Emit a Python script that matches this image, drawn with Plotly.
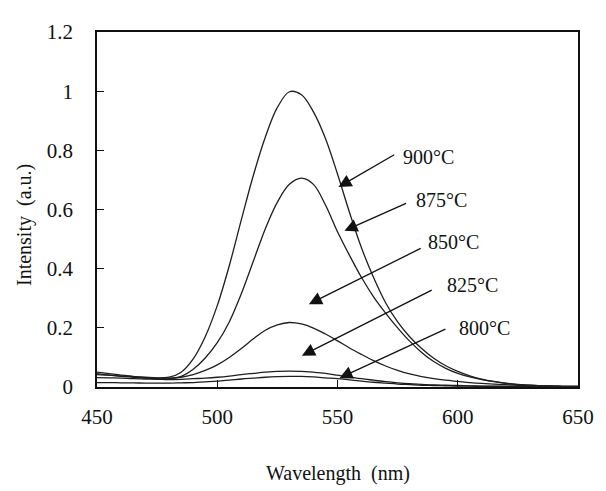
import plotly.graph_objects as go

wavelength = [450, 455, 460, 465, 470, 475, 480, 485, 490, 495,
              500, 505, 510, 515, 520, 525, 530, 535, 540, 545,
              550, 555, 560, 565, 570, 575, 580, 585, 590, 595,
              600, 605, 610, 615, 620, 625, 630, 635, 640, 645, 650]

i_900 = [0.050, 0.045, 0.040, 0.036, 0.032, 0.030, 0.033, 0.050, 0.095, 0.170,
         0.275, 0.410, 0.565, 0.715, 0.845, 0.945, 0.998, 0.988, 0.930, 0.840,
         0.720, 0.590, 0.470, 0.370, 0.285, 0.220, 0.170, 0.130, 0.097, 0.072,
         0.053, 0.038, 0.027, 0.019, 0.013, 0.009, 0.006, 0.004, 0.003, 0.002, 0.002]

i_875 = [0.045, 0.040, 0.036, 0.033, 0.030, 0.028, 0.028, 0.036, 0.060, 0.098,
         0.150, 0.220, 0.315, 0.425, 0.535, 0.625, 0.685, 0.706, 0.685, 0.615,
         0.525, 0.445, 0.370, 0.305, 0.250, 0.200, 0.155, 0.117, 0.086, 0.063,
         0.046, 0.034, 0.025, 0.018, 0.012, 0.008, 0.005, 0.004, 0.003, 0.002, 0.002]

i_850 = [0.042, 0.040, 0.037, 0.035, 0.033, 0.031, 0.030, 0.033, 0.042, 0.056,
         0.075, 0.100, 0.130, 0.163, 0.192, 0.210, 0.218, 0.213, 0.199, 0.179,
         0.156, 0.132, 0.110, 0.089, 0.071, 0.056, 0.044, 0.035, 0.028, 0.023,
         0.019, 0.015, 0.012, 0.010, 0.008, 0.006, 0.005, 0.004, 0.003, 0.002, 0.002]

i_825 = [0.032, 0.031, 0.030, 0.028, 0.027, 0.026, 0.025, 0.026, 0.028, 0.030,
         0.033, 0.037, 0.042, 0.046, 0.050, 0.053, 0.054, 0.053, 0.050, 0.046,
         0.040, 0.034, 0.028, 0.023, 0.018, 0.014, 0.011, 0.009, 0.007, 0.006,
         0.005, 0.004, 0.003, 0.003, 0.002, 0.002, 0.002, 0.001, 0.001, 0.001, 0.001]

i_800 = [0.015, 0.015, 0.014, 0.014, 0.013, 0.013, 0.013, 0.014, 0.015, 0.017,
         0.020, 0.023, 0.027, 0.030, 0.033, 0.035, 0.036, 0.036, 0.034, 0.031,
         0.028, 0.024, 0.020, 0.016, 0.013, 0.010, 0.008, 0.006, 0.005, 0.004,
         0.003, 0.003, 0.002, 0.002, 0.002, 0.002, 0.001, 0.001, 0.001, 0.001, 0.001]

series = [("900°C", i_900), ("875°C", i_875), ("850°C", i_850),
          ("825°C", i_825), ("800°C", i_800)]

x_ticks = [450, 500, 550, 600, 650]
y_ticks = [0, 0.2, 0.4, 0.6, 0.8, 1, 1.2]
y_ticktext = ["0", "0.2", "0.4", "0.6", "0.8", "1", "1.2"]

# label/arrow placement: (label x, label y, arrow tail x, tail y, head x, head y)
label_pos = {
    "900°C": (576.6, 0.778, 574.2, 0.788, 550.4, 0.676),
    "875°C": (582.0, 0.633, 579.1, 0.623, 552.9, 0.528),
    "850°C": (586.9, 0.491, 585.2, 0.471, 538.1, 0.280),
    "825°C": (594.7, 0.346, 589.8, 0.330, 535.2, 0.106),
    "800°C": (599.6, 0.198, 595.5, 0.198, 550.8, 0.030),
}

SERIF = "Liberation Serif, Times New Roman, serif"
LINE = "#1e1e1e"

fig = go.Figure()
for name, vals in series:
    fig.add_trace(go.Scatter(x=wavelength, y=vals, mode="lines", name=name,
                             line=dict(color=LINE, width=1.3, shape="spline",
                                       smoothing=1.0),
                             showlegend=False, hoverinfo="skip"))

annotations = []
for name, _ in series:
    lx, ly, tx, ty, hx, hy = label_pos[name]
    annotations.append(dict(x=lx, y=ly, xref="x", yref="y", text=name,
                            showarrow=False, xanchor="left", yanchor="middle",
                            font=dict(family=SERIF, size=20, color="#111")))
    annotations.append(dict(x=hx, y=hy, ax=tx, ay=ty, xref="x", yref="y",
                            axref="x", ayref="y", text="", showarrow=True,
                            arrowhead=2, arrowsize=2.0, arrowwidth=1.3,
                            arrowcolor="#111", standoff=0, startstandoff=0))

annotations.append(dict(x=0.5, y=-0.245, xref="paper", yref="paper",
                        text="Wavelength&nbsp;&nbsp;(nm)", showarrow=False,
                        xanchor="center", yanchor="middle",
                        font=dict(family=SERIF, size=20, color="#111")))
annotations.append(dict(x=-0.152, y=0.456, xref="paper", yref="paper",
                        text="Intensity&nbsp;&nbsp;(a.u.)", showarrow=False,
                        textangle=-90, xanchor="center", yanchor="middle",
                        font=dict(family=SERIF, size=20, color="#111")))

# the page body adds an 8px offset, so the figure is sized/margined to compensate
fig.update_layout(
    width=598, height=483,
    margin=dict(l=89, r=21, t=15, b=104),
    paper_bgcolor="white", plot_bgcolor="white",
    annotations=annotations,
    xaxis=dict(range=[450, 650], tickvals=x_ticks, ticks="inside", ticklen=7,
               tickwidth=1.2, tickcolor="#111", showline=True, linecolor="#111",
               linewidth=1.5, mirror=True, showgrid=False, zeroline=False,
               ticklabelstandoff=10,
               tickfont=dict(family=SERIF, size=21, color="#111")),
    yaxis=dict(range=[0, 1.2], tickvals=y_ticks, ticktext=y_ticktext,
               ticks="inside", ticklen=7, tickwidth=1.2, tickcolor="#111",
               showline=True, linecolor="#111", linewidth=1.5, mirror=True,
               showgrid=False, zeroline=False, ticklabelstandoff=18,
               tickfont=dict(family=SERIF, size=21, color="#111")),
)

fig.write_html("out.html")
